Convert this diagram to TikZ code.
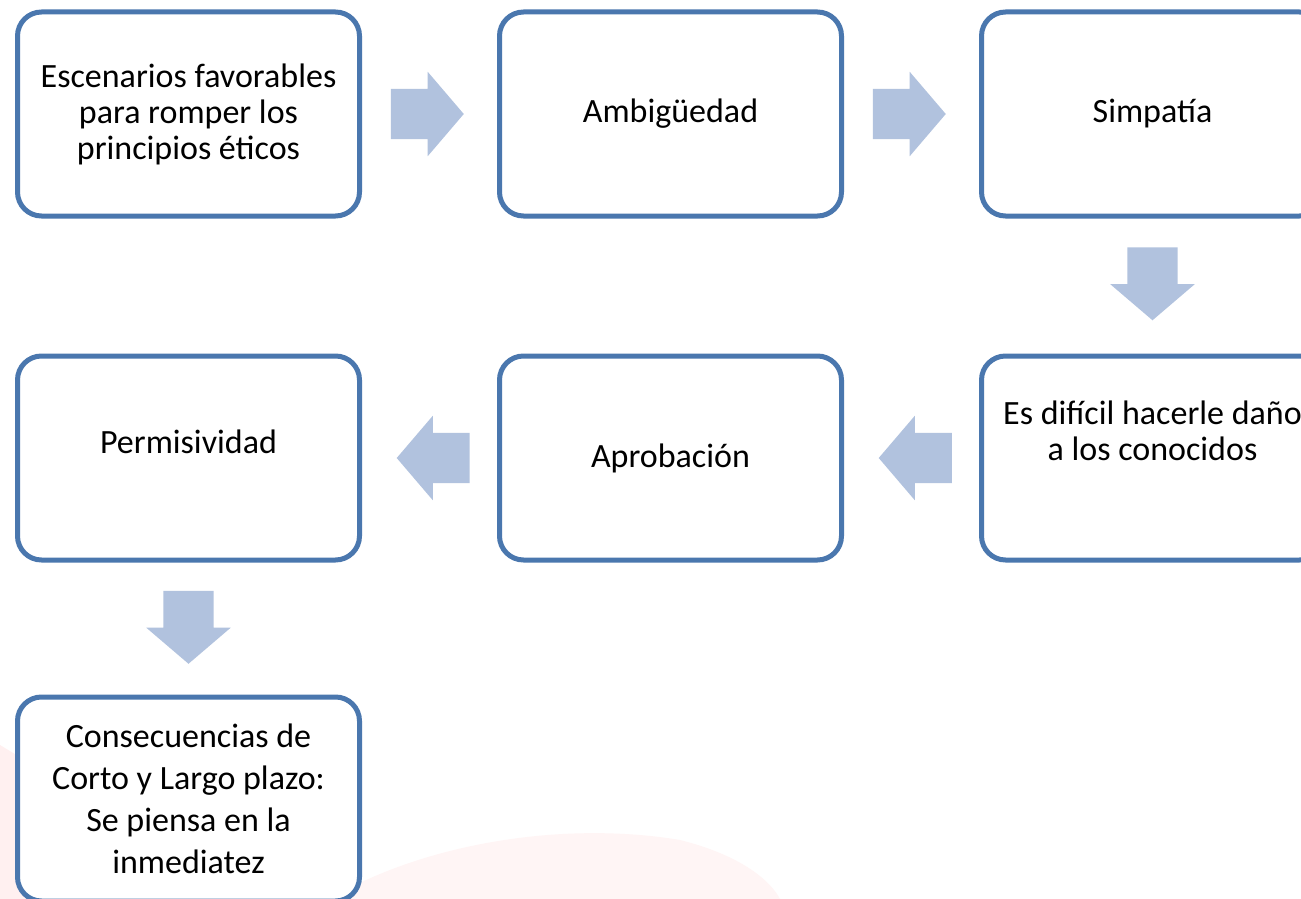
\documentclass[tikz,border=0pt]{standalone}
\usepackage{fontspec}
\setmainfont{Carlito}
\usepackage{tikz}
\usetikzlibrary{shapes.arrows, positioning, calc}
\definecolor{boxblue}{HTML}{4A77AE}
\definecolor{arrowblue}{HTML}{B1C2DE}
\tikzstyle{box} = [rectangle, draw=boxblue, line width=5pt, rounded corners=24pt, fill=white, minimum width=342pt, minimum height=204pt, text centered, align=center, font=\fontsize{34pt}{36pt}\selectfont]
\tikzstyle{txt} = [align=center, font=\fontsize{34pt}{36pt}\selectfont]
\tikzstyle{blockarrow} = [single arrow, fill=arrowblue, draw=none, inner xsep=0pt, inner ysep=25pt, minimum height=73pt, minimum width=84pt, single arrow head extend=17pt, single arrow tip angle=99]

\begin{document}
\begin{tikzpicture}[x=1pt, y=-1pt]
\clip (0,0) rectangle (1301,899);
\fill[white] (0,0) rectangle (1301,899);

% faint watermark
\fill[red!6] (0,745) .. controls (90,800) and (200,860) .. (250,899) -- (0,899) -- cycle;
\fill[red!4] (330,899) .. controls (420,845) and (560,820) .. (680,840) .. controls (740,855) and (770,880) .. (780,899) -- cycle;

% Nodes for Flow
\node (esc) [box] at (188.5,114) {Escenarios favorables\\para romper los\\principios éticos};
\node (amb) [box, right=135pt of esc] {Ambigüedad};
\node (sim) [box, right=135pt of amb] {Simpatía};
\node (dif) [box, below=135pt of sim, label={[txt, yshift=27pt]center:Es difícil hacerle daño\\a los conocidos}] {};
\node (apr) [box, left=135pt of dif] {Aprobación};
\node (per) [box, left=135pt of apr, label={[txt, yshift=16pt]center:Permisividad}] {};
\node (con) [box, below=132pt of per, font=\fontsize{34pt}{42pt}\selectfont] {Consecuencias de\\Corto y Largo plazo:\\Se piensa en la\\inmediatez};

% Block arrows between boxes
\node (a1) [blockarrow, xshift=-13pt] at ($(esc.east)!0.5!(amb.west)$) {};
\node (a2) [blockarrow, xshift=-13pt] at ($(amb.east)!0.5!(sim.west)$) {};
\node (a3) [blockarrow, yshift=13pt, rotate=-90] at ($(sim.south)!0.5!(dif.north)$) {};
\node (a4) [blockarrow, xshift=14.5pt, rotate=180] at ($(dif.west)!0.5!(apr.east)$) {};
\node (a5) [blockarrow, xshift=14.5pt, rotate=180] at ($(apr.west)!0.5!(per.east)$) {};
\node (a6) [blockarrow, yshift=12pt, rotate=-90] at ($(per.south)!0.5!(con.north)$) {};

\end{tikzpicture}
\end{document}
